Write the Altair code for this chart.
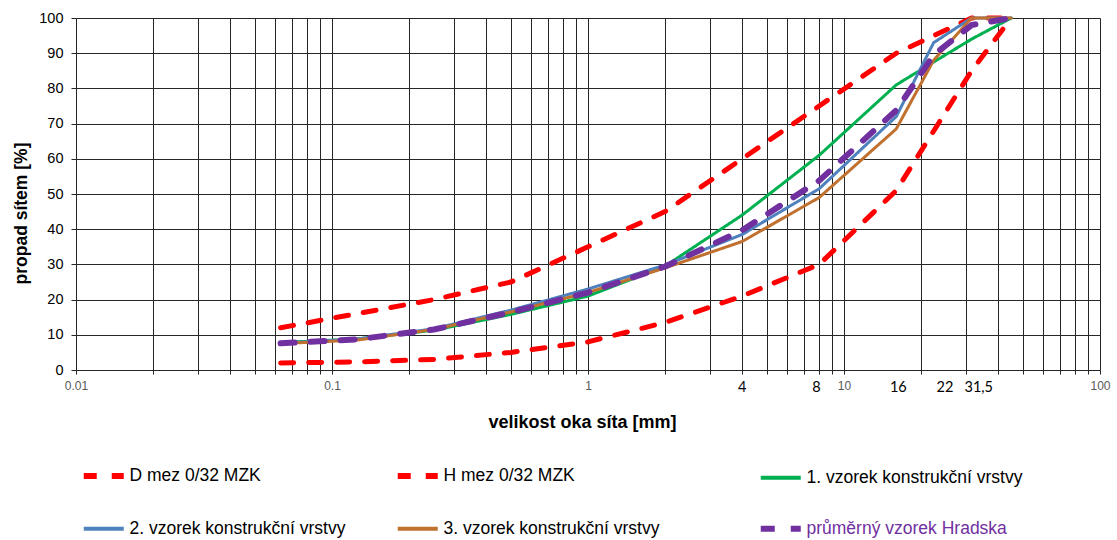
import altair as alt
import pandas as pd

# ---- data ----
sieve_lim = [0.063, 0.125, 0.25, 0.5, 1, 2, 4, 8, 16, 31.5, 45]
d_mez = [2, 2.3, 3, 5, 8, 13.5, 21, 30, 51, 85, 100]
h_mez = [12, 16, 20, 25, 35, 45, 60, 75, 90, 100, 100]

sieve_smp = [0.063, 0.125, 0.25, 0.5, 1, 2, 4, 8, 16, 22.4, 31.5, 45]
vzorek1 = [7.8, 8.8, 11.3, 15.8, 21, 29.5, 44, 61, 81, 87.5, 94, 100]
vzorek2 = [7.6, 8.8, 11.7, 17, 23, 29.8, 38.5, 51.5, 72, 93, 100, 100]
vzorek3 = [7.5, 8.5, 11.5, 16.5, 22, 29, 36.5, 49, 68.5, 88, 100, 100]
prumer = [7.6, 8.7, 11.5, 16.4, 22, 29.4, 39.7, 53.8, 73.8, 89.5, 98, 100]

names = ["D mez 0/32 MZK", "H mez 0/32 MZK", "1. vzorek konstrukční vrstvy",
         "2. vzorek konstrukční vrstvy", "3. vzorek konstrukční vrstvy",
         "průměrný vzorek Hradska"]
colors = ["#FF0000", "#FF0000", "#00B050", "#4F81BD", "#C0702F", "#7030A0"]
dashes = [[13, 15], [13, 15], [1, 0], [1, 0], [1, 0], [14, 16]]

extra_pos = [4, 7.8, 16.3, 24.8, 33.6]
extra_txt = ["4", "8", "16", "22", "31,5"]

major_x = [0.01, 0.1, 1, 10, 100]
grid_x = [m * 10 ** e for e in range(-2, 2) for m in range(1, 10)] + [100]
grid_y = list(range(0, 101, 10))


def frame(xs, ys, name):
    return pd.DataFrame({"size": xs, "pct": ys, "series": name})


lim_df = pd.concat([frame(sieve_lim, d_mez, names[0]), frame(sieve_lim, h_mez, names[1])])
smp_df = pd.concat([frame(sieve_smp, vzorek1, names[2]), frame(sieve_smp, vzorek2, names[3]),
                    frame(sieve_smp, vzorek3, names[4])])
avg_df = frame(sieve_smp, prumer, names[5])
lab_df = pd.DataFrame({"size": extra_pos, "txt": extra_txt, "pct": 0})

FONT = "Liberation Sans"
GRID = "#262626"

x_axis = alt.Axis(values=grid_x, title="velikost oka síta [mm]",
                  labelExpr="indexof([0.01, 0.1, 1, 10, 100], datum.value) >= 0 ? datum.value + '' : ''",
                  labelFont=FONT, labelFontSize=12, labelColor="#595959", labelFlush=False,
                  labelOverlap=False, labelPadding=6, tickSize=4, tickColor=GRID,
                  domain=False, grid=True, gridColor=GRID, gridWidth=1,
                  titleFont=FONT, titleFontSize=18, titleFontWeight="bold", titleColor="black",
                  titleX=506, titleY=52, titleBaseline="middle", titleAlign="center")
y_axis = alt.Axis(values=grid_y, title="propad sítem [%]", labelFont=FONT, labelFontSize=14.5,
                  labelColor="black", labelPadding=8, tickSize=5, tickColor=GRID,
                  domain=False, grid=True, gridColor=GRID, gridWidth=1,
                  titleFont=FONT, titleFontSize=17.5, titleFontWeight="bold", titleColor="black",
                  titleAngle=270, titleX=-55, titleY=195, titleBaseline="middle", titleAlign="center")

x_scale = alt.Scale(type="log", domain=[0.01, 100], nice=False)
y_scale = alt.Scale(domain=[0, 100], nice=False)

# the middle legend column is wider in the reference: widen it with invisible padding
pad = " " * 10 + "\u200b"
legend = alt.Legend(
    title=None, orient="none", direction="horizontal", legendX=19, legendY=449, columns=3,
    symbolType="stroke", symbolSize=1600, labelFont=FONT, labelFontSize=17.5, labelLimit=700,
    columnPadding=39, rowPadding=28, padding=0, labelOffset=17,
    labelExpr="datum.value == '3. vzorek konstrukční vrstvy' ? datum.label + '" + pad + "' : datum.label",
    labelColor=alt.ExprRef(expr="datum.value == 'průměrný vzorek Hradska' ? '#7030A0' : 'black'"),
    symbolStrokeWidth=alt.ExprRef(expr="indexof(['D mez 0/32 MZK', 'H mez 0/32 MZK', 'průměrný vzorek Hradska'], datum.value) >= 0 ? 6 : 4"),
)

color = alt.Color("series:N", scale=alt.Scale(domain=names, range=colors), legend=legend)
dash = alt.StrokeDash("series:N", scale=alt.Scale(domain=names, range=dashes), legend=legend)
X = alt.X("size:Q", scale=x_scale, axis=x_axis)
Y = alt.Y("pct:Q", scale=y_scale, axis=y_axis)


def lines(df, w):
    return alt.Chart(df).mark_line(strokeWidth=w, strokeCap="round", strokeJoin="round").encode(
        x=X, y=Y, color=color, strokeDash=dash, detail="series:N")


labels = alt.Chart(lab_df).mark_text(font="Lato", fontSize=14.5, color="black",
                                     baseline="middle", dy=18).encode(x=X, y=Y, text="txt:N")

chart = alt.layer(lines(lim_df, 5), lines(smp_df, 3), lines(avg_df, 6), labels).properties(
    width=1024, height=352,
    autosize=alt.AutoSizeParams(type="none"),
    padding={"left": 76, "top": 18, "right": 17, "bottom": 170},
).configure_view(stroke="black", strokeWidth=4).configure(background="white")

chart.save("out.html", embed_options={"renderer": "svg", "actions": False})
